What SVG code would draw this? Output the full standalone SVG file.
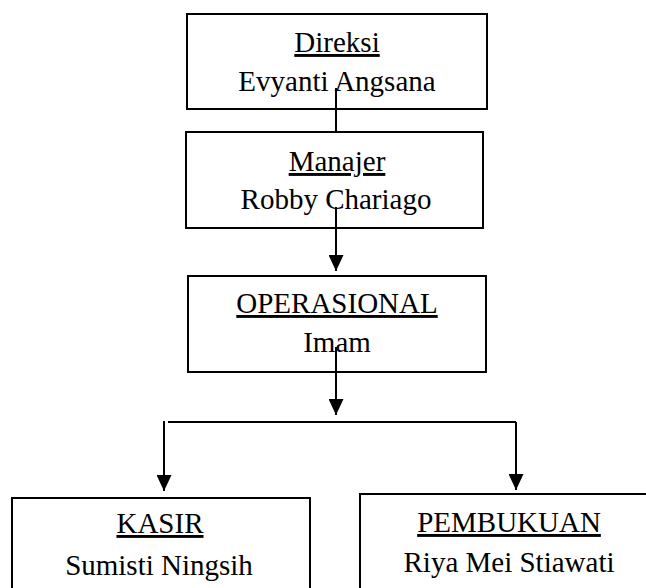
<svg xmlns="http://www.w3.org/2000/svg" width="646" height="588" viewBox="0 0 646 588">
<defs>
<style>
.box{fill:#fff;stroke:#000;stroke-width:2}
.t{font-family:"Liberation Serif","Times New Roman",serif;font-size:29px;fill:#000;text-anchor:middle}
.u{text-decoration:underline}
.c{fill:none;stroke:#000;stroke-width:2}
</style>
<marker id="ah" markerUnits="userSpaceOnUse" markerWidth="16" markerHeight="15" refX="16" refY="7.5" orient="auto" viewBox="0 0 16 15">
<path d="M0,0 L16,7.5 L0,15 Z" fill="#000"/>
</marker>
</defs>
<g id="direksi">
<rect class="box" x="187" y="14" width="300" height="95"/>
<text class="t u" x="337" y="52">Direksi</text>
<text class="t" x="337" y="91">Evyanti Angsana</text>
</g>
<g id="manajer">
<rect class="box" x="186" y="132" width="297" height="96"/>
<text class="t u" x="337" y="171">Manajer</text>
<text class="t" x="336" y="209">Robby Chariago</text>
</g>
<g id="operasional">
<rect class="box" x="188" y="276" width="298" height="96"/>
<text class="t u" x="337" y="313">OPERASIONAL</text>
<text class="t" x="337" y="352">Imam</text>
</g>
<g id="kasir">
<rect class="box" x="12" y="498" width="298" height="100"/>
<text class="t u" x="160" y="533">KASIR</text>
<text class="t" x="159" y="575">Sumisti Ningsih</text>
</g>
<g id="pembukuan">
<rect class="box" x="360" y="494" width="300" height="104"/>
<text class="t u" x="509" y="532">PEMBUKUAN</text>
<text class="t" x="509" y="572">Riya Mei Stiawati</text>
</g>
<g id="connectors">
<line class="c" x1="336" y1="88" x2="336" y2="132"/>
<line class="c" x1="336" y1="207" x2="336" y2="271" marker-end="url(#ah)"/>
<line class="c" x1="336" y1="347" x2="336" y2="415" marker-end="url(#ah)"/>
<line class="c" x1="168" y1="422" x2="516" y2="422"/>
<line class="c" x1="164" y1="421" x2="164" y2="491" marker-end="url(#ah)"/>
<line class="c" x1="516" y1="422" x2="516" y2="490" marker-end="url(#ah)"/>
</g>
</svg>
